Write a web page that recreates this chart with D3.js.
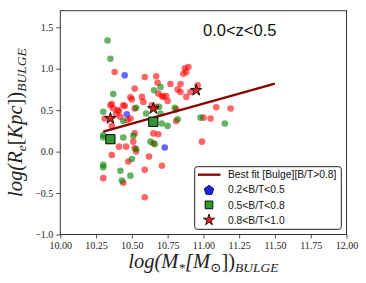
<!DOCTYPE html>
<html>
<head>
<meta charset="utf-8">
<script src="https://cdn.jsdelivr.net/npm/d3@7"></script>
<style>
  body { margin: 0; background: #fff; }
  svg { display: block; }
</style>
</head>
<body>
<div id="chart"></div>
<script>
// data
var redPoints = [
  [10.38, 0.96], [10.59, 0.90], [10.67, 0.91], [10.52, 0.76], [10.49, 0.655],
  [10.685, 0.70], [10.71, 0.67], [10.72, 0.66], [10.87, 1.005], [10.895, 1.02],
  [10.88, 0.96], [10.86, 0.94], [10.77, 0.815], [10.84, 0.815], [10.82, 0.75],
  [10.84, 0.72], [10.91, 0.72], [10.96, 0.80], [10.88, 0.66], [10.74, 0.67],
  [11.09, 0.535], [11.19, 0.52], [11.00, 0.41], [11.05, 0.40], [10.99, 0.12],
  [10.75, 0.61], [10.81, 0.51], [10.81, 0.37], [10.36, 0.574], [10.41, 0.49],
  [10.44, 0.56], [10.49, 0.40], [10.52, 0.52], [10.57, 0.66], [10.36, 0.31],
  [10.64, 0.56], [10.67, 0.54], [10.52, 0.22], [10.51, 0.12], [10.41, 0.06],
  [10.46, 0.06], [10.52, 0.04], [10.36, -0.04], [10.65, 0.22], [10.685, 0.21],
  [10.65, 0.10], [10.62, -0.06], [10.475, -0.12], [10.30, -0.32], [10.44, -0.375],
  [10.59, -0.22], [10.71, -0.17], [10.59, -0.55], [10.35, 0.56], [10.37, 0.52],
  [10.45, 0.55], [10.58, 0.60], [10.53, 0.0], [10.39, 0.45], [10.42, 0.42],
  [10.31, 0.40], [10.47, 0.38], [10.50, 0.63], [10.68, 0.83], [10.40, 0.50]
];
var greenPoints = [
  [10.33, 1.34], [10.35, 1.12], [10.70, 0.78], [10.655, 0.74], [10.37, 0.695],
  [10.80, 0.53], [10.75, 0.31], [10.82, 0.39], [10.98, 0.41], [11.15, 0.34],
  [10.30, 0.48], [10.53, 0.53], [10.44, 0.37], [10.60, 0.46], [10.69, 0.54],
  [10.44, 0.17], [10.30, 0.20], [10.30, 0.17], [10.51, 0.19], [10.50, -0.09],
  [10.63, 0.12], [10.66, 0.09], [10.30, -0.16], [10.30, -0.19], [10.42, -0.23],
  [10.49, -0.29], [10.43, -0.35], [10.70, 0.46], [10.71, 0.34], [10.53, 0.03]
];
var bluePoints = [[10.45, 0.92], [10.465, 0.45], [10.73, 0.05]];
var squarePoints = [[10.35, 0.15], [10.65, 0.36]];
var starPoints = [[10.35, 0.40], [10.65, 0.52], [10.95, 0.74]];
var fitLine = [[10.3, 0.24], [11.5, 0.82]];
var xTicks = [10.00, 10.25, 10.50, 10.75, 11.00, 11.25, 11.50, 11.75, 12.00];
var yTicks = [-1.0, -0.5, 0.0, 0.5, 1.0, 1.5];
var legendLabels = ["Best fit [Bulge][B/T>0.8]", "0.2<B/T<0.5", "0.5<B/T<0.8", "0.8<B/T<1.0"];
var titleText = "0.0<z<0.5";

var W = 366, H = 283;
var margin = {left: 60.3, top: 10.7, right: 19.5, bottom: 48.5};

var svg = d3.select("#chart").append("svg")
  .attr("width", W).attr("height", H);

var x = d3.scaleLinear().domain([10, 12]).range([margin.left, W - margin.right]);
var y = d3.scaleLinear().domain([-1, 1.7]).range([H - margin.bottom, margin.top]);

// axes
var xAxis = svg.append("g")
  .attr("transform", "translate(0," + (H - margin.bottom) + ")")
  .call(d3.axisBottom(x).tickValues(xTicks).tickFormat(d3.format(".2f")).tickSize(4).tickPadding(3));
var yAxis = svg.append("g")
  .attr("transform", "translate(" + margin.left + ",0)")
  .call(d3.axisLeft(y).tickValues(yTicks).tickFormat(d3.format(".1f")).tickSize(4).tickPadding(3));
[xAxis, yAxis].forEach(function(a){
  a.select(".domain").remove();
  a.selectAll("line").attr("stroke", "#222").attr("stroke-width", 0.8);
  a.selectAll("text").style("font-family", "Liberation Serif, DejaVu Serif, serif")
    .style("font-size", "10px").attr("fill", "#222");
});

// scatter points
function dots(list, color){
  svg.append("g").selectAll("circle")
    .data(list).enter().append("circle")
    .attr("cx", function(d){ return x(d[0]); })
    .attr("cy", function(d){ return y(d[1]); })
    .attr("r", 3.3)
    .attr("fill", color)
    .attr("fill-opacity", 0.6);
}
dots(redPoints, "#ff0000");
dots(greenPoints, "#008000");
dots(bluePoints, "#0000ff");

// best fit
svg.append("path")
  .datum(fitLine)
  .attr("d", d3.line().x(function(d){ return x(d[0]); }).y(function(d){ return y(d[1]); }))
  .attr("stroke", "#8b0000").attr("stroke-width", 2.3).attr("fill", "none");

// squares and stars
var sq = d3.symbol().type(d3.symbolSquare).size(85);
svg.append("g").selectAll("path")
  .data(squarePoints).enter().append("path")
  .attr("d", sq)
  .attr("transform", function(d){ return "translate(" + x(d[0]) + "," + y(d[1]) + ")"; })
  .attr("fill", "#2e9a2e").attr("stroke", "#000").attr("stroke-width", 1);

var st = d3.symbol().type(d3.symbolStar).size(40);
svg.append("g").selectAll("path")
  .data(starPoints).enter().append("path")
  .attr("d", st)
  .attr("transform", function(d){ return "translate(" + x(d[0]) + "," + y(d[1]) + ")"; })
  .attr("fill", "#e02020").attr("stroke", "#000").attr("stroke-width", 0.9);

// frame
svg.append("rect")
  .attr("x", margin.left).attr("y", margin.top)
  .attr("width", W - margin.left - margin.right)
  .attr("height", H - margin.top - margin.bottom)
  .attr("fill", "none").attr("stroke", "#333").attr("stroke-width", 1);

// title inside plot
svg.append("text")
  .attr("x", 203).attr("y", 36)
  .style("font-family", "Liberation Sans, Arial, sans-serif")
  .style("font-size", "16.5px")
  .attr("fill", "#111")
  .text(titleText);

// pentagon marker (d3 has none)
var pentagon = {
  draw: function(ctx, size){
    var r = Math.sqrt(size / 2.378);
    for (var k = 0; k < 5; k++){
      var a = -Math.PI / 2 + k * 2 * Math.PI / 5;
      if (k == 0) ctx.moveTo(r * Math.cos(a), r * Math.sin(a));
      else ctx.lineTo(r * Math.cos(a), r * Math.sin(a));
    }
    ctx.closePath();
  }
};

// legend
var lg = svg.append("g");
lg.append("rect")
  .attr("x", 194.7).attr("y", 166.7).attr("width", 146.6).attr("height", 62.6)
  .attr("rx", 2.5).attr("fill", "#fff").attr("fill-opacity", 0.85)
  .attr("stroke", "#222").attr("stroke-width", 1);
var rowY = [174.7, 189.8, 204.9, 220];
var mx = 209;
lg.append("line").attr("x1", 198).attr("x2", 220.5).attr("y1", rowY[0]).attr("y2", rowY[0])
  .attr("stroke", "#8b0000").attr("stroke-width", 2.3);
lg.append("path").attr("d", d3.symbol().type(pentagon).size(60)())
  .attr("transform", "translate(" + mx + "," + (rowY[1] + 0.5) + ")")
  .attr("fill", "#1f1fff").attr("stroke", "#000").attr("stroke-width", 0.8);
lg.append("path").attr("d", d3.symbol().type(d3.symbolSquare).size(60)())
  .attr("transform", "translate(" + mx + "," + rowY[2] + ")")
  .attr("fill", "#2e9a2e").attr("stroke", "#000").attr("stroke-width", 0.9);
lg.append("path").attr("d", d3.symbol().type(d3.symbolStar).size(40)())
  .attr("transform", "translate(" + mx + "," + rowY[3] + ")")
  .attr("fill", "#e02020").attr("stroke", "#000").attr("stroke-width", 0.8);
lg.selectAll("text.lab").data(legendLabels).enter().append("text")
  .attr("class", "lab")
  .attr("x", 228).attr("y", function(d, i){ return rowY[i] + 3.6; })
  .style("font-family", "Liberation Sans, Arial, sans-serif")
  .style("font-size", "10.3px")
  .attr("fill", "#111")
  .text(function(d){ return d; });

// axis labels
var labFont = "Liberation Serif, DejaVu Serif, serif";
var xl = svg.append("text")
  .attr("x", (x(10) + x(12)) / 2).attr("y", 268)
  .attr("text-anchor", "middle")
  .style("font-family", labFont).style("font-size", "20.5px").style("font-style", "italic")
  .attr("fill", "#222");
xl.append("tspan").text("log(M");
xl.append("tspan").attr("dy", 4).style("font-size", "13.5px").text("*");
xl.append("tspan").attr("dy", -4).text("[M");
xl.append("tspan").attr("dy", 4).style("font-size", "13.5px").style("font-style", "normal").text("\u2299");
xl.append("tspan").attr("dy", -4).style("font-style", "normal").text("])");
xl.append("tspan").attr("dy", 4).style("font-size", "13.5px").text("BULGE");

var yl = svg.append("text")
  .attr("transform", "translate(22," + ((y(-1) + y(1.7)) / 2) + ") rotate(-90)")
  .attr("text-anchor", "middle")
  .style("font-family", labFont).style("font-size", "20.5px").style("font-style", "italic")
  .attr("fill", "#222");
yl.append("tspan").text("log(R");
yl.append("tspan").attr("dy", 4).style("font-size", "13.5px").text("e");
yl.append("tspan").attr("dy", -4).style("font-style", "normal").text("[");
yl.append("tspan").text("Kpc");
yl.append("tspan").style("font-style", "normal").text("])");
yl.append("tspan").attr("dy", 4).style("font-size", "13.5px").text("BULGE");
</script>
</body>
</html>
